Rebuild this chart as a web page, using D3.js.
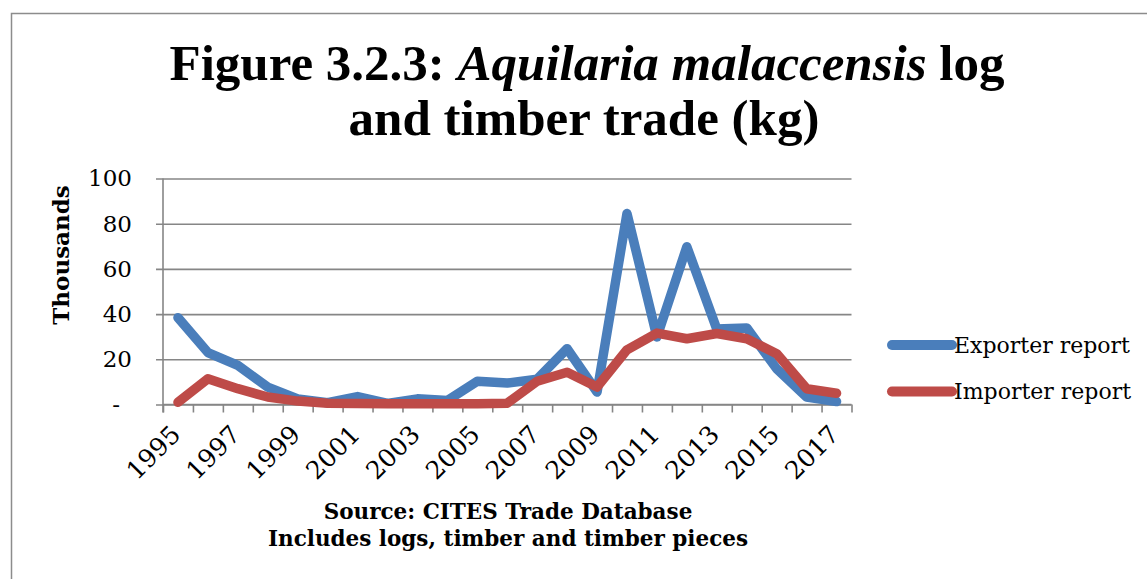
<!DOCTYPE html>
<html>
<head>
<meta charset="utf-8">
<script src="https://cdn.jsdelivr.net/npm/d3@7"></script>
<style>
  body { margin: 0; background: #fff; }
  .tick text { font-family: "DejaVu Serif", serif; }
</style>
</head>
<body>
<div id="chart"></div>
<script>
// Chart data
var years = [1995, 1996, 1997, 1998, 1999, 2000, 2001, 2002, 2003, 2004, 2005, 2006,
  2007, 2008, 2009, 2010, 2011, 2012, 2013, 2014, 2015, 2016, 2017];
var exporterReport = [38.4, 23, 17.3, 7.7, 2.5, 0.8, 3.5, 0.5, 2.5, 1.8, 10.3, 9.5,
  11.2, 24.7, 5.5, 84.5, 29.9, 69.8, 33.4, 33.9, 15.8, 3.3, 1.3];
var importerReport = [1, 11.4, 7, 3.3, 1.5, 0.6, 0.4, 0.3, 0.3, 0.3, 0.3, 0.6,
  10.3, 14.3, 7.7, 24.2, 31.6, 29.1, 31.4, 29.1, 22.5, 7, 5];
var yTicks = [0, 20, 40, 60, 80, 100];
var xLabelYears = years.filter(function(y) { return y % 2 === 1; });

var series = [
  { name: "Exporter report", values: exporterReport, color: "#4a7ebb" },
  { name: "Importer report", values: importerReport, color: "#be4b48" }
];

var svgWidth = 1147;
var svgHeight = 579;

var plot = { left: 163, right: 851.5, top: 178.5, bottom: 404.5 };

var svg = d3.select("#chart")
  .append("svg")
  .attr("width", svgWidth)
  .attr("height", svgHeight);

// outer frame
svg.append("path")
  .attr("d", "M11.5," + svgHeight + "V13.5H" + svgWidth)
  .attr("fill", "none")
  .attr("stroke", "#8c8c8c")
  .attr("stroke-width", 1.5);

// Title
var title = svg.append("text")
  .attr("text-anchor", "middle")
  .attr("font-family", "'Liberation Serif', serif")
  .attr("font-weight", "bold")
  .attr("font-size", 51)
  .attr("fill", "#000");
var line1 = title.append("tspan").attr("x", 587).attr("y", 80);
line1.append("tspan").text("Figure 3.2.3: ");
line1.append("tspan").attr("font-style", "italic").text("Aquilaria malaccensis");
line1.append("tspan").text(" log");
title.append("tspan").attr("x", 584).attr("y", 135).text("and timber trade (kg)");

// Scales
var xBand = d3.scaleBand()
  .domain(years)
  .range([plot.left, plot.right]);

var xEdge = d3.scaleLinear()
  .domain([0, years.length])
  .range([plot.left, plot.right]);

var yScale = d3.scaleLinear()
  .domain([0, 100])
  .range([plot.bottom, plot.top]);

// Gridlines
var grid = svg.append("g")
  .attr("transform", "translate(156, 0)")
  .call(d3.axisRight(yScale).tickValues(yTicks).tickSize(plot.right - 156).tickFormat(""));
grid.select(".domain").remove();
grid.selectAll("line").attr("stroke", "#868686").attr("stroke-width", 1.6);

// Y axis
var yAxis = svg.append("g")
  .attr("transform", "translate(" + plot.left + ", 0)")
  .call(d3.axisLeft(yScale).tickValues(yTicks).tickSize(0).tickPadding(31)
    .tickFormat(function(d) { return d === 0 ? "-" : d; }));
yAxis.select(".domain").remove();
yAxis.selectAll("text").attr("font-size", 23).attr("fill", "#000");
yAxis.selectAll(".tick").filter(function(d) { return d === 0; })
  .select("text").attr("dx", -12);

svg.append("line")
  .attr("x1", plot.left).attr("x2", plot.left)
  .attr("y1", plot.top).attr("y2", plot.bottom + 8)
  .attr("stroke", "#868686").attr("stroke-width", 1.6);

// X axis tick marks at category edges
var xTicks = svg.append("g")
  .attr("transform", "translate(0, " + plot.bottom + ")")
  .call(d3.axisBottom(xEdge).tickValues(d3.range(years.length + 1)).tickSize(8).tickFormat(""));
xTicks.select(".domain").remove();
xTicks.selectAll("line").attr("stroke", "#868686").attr("stroke-width", 1.6);

svg.append("line")
  .attr("x1", plot.left).attr("x2", plot.right)
  .attr("y1", plot.bottom).attr("y2", plot.bottom)
  .attr("stroke", "#868686").attr("stroke-width", 1.6);

// X labels, rotated
var xLabels = svg.append("g")
  .call(d3.axisBottom(xBand).tickValues(xLabelYears).tickSize(0).tickFormat(d3.format("d")));
xLabels.select(".domain").remove();
xLabels.selectAll(".tick")
  .attr("transform", function(d) {
    return "translate(" + (xBand(d) + xBand.bandwidth() / 2 + 4) + ", 436)";
  });
xLabels.selectAll("text")
  .attr("y", 0).attr("dy", 0)
  .attr("transform", "rotate(-45)")
  .attr("text-anchor", "end")
  .attr("font-size", 25)
  .attr("fill", "#000");

// Lines
var line = d3.line()
  .x(function(d, i) { return xBand(years[i]) + xBand.bandwidth() / 2; })
  .y(function(d) { return yScale(d); });

svg.selectAll(".series")
  .data(series)
  .enter()
  .append("path")
  .attr("class", "series")
  .attr("d", function(s) { return line(s.values); })
  .attr("fill", "none")
  .attr("stroke", function(s) { return s.color; })
  .attr("stroke-width", 9.5)
  .attr("stroke-linejoin", "round")
  .attr("stroke-linecap", "round");

// Y axis title
svg.append("text")
  .attr("transform", "translate(69, 255) rotate(-90)")
  .attr("text-anchor", "middle")
  .attr("font-family", "'DejaVu Serif', serif")
  .attr("font-weight", "bold")
  .attr("font-size", 23)
  .text("Thousands");

// Legend
var legend = svg.selectAll(".legend")
  .data(series)
  .enter()
  .append("g")
  .attr("class", "legend")
  .attr("transform", function(s, i) { return "translate(892, " + (345 + i * 46.5) + ")"; });

legend.append("line")
  .attr("x1", 0).attr("x2", 60)
  .attr("stroke", function(s) { return s.color; })
  .attr("stroke-width", 10)
  .attr("stroke-linecap", "round");

legend.append("text")
  .attr("x", 62)
  .attr("dy", "0.35em")
  .attr("font-family", "'DejaVu Serif', serif")
  .attr("font-size", 22)
  .text(function(s) { return s.name; });

// Source note
var note = svg.append("text")
  .attr("text-anchor", "middle")
  .attr("font-family", "'DejaVu Serif', serif")
  .attr("font-weight", "bold")
  .attr("font-size", 21.5);
note.append("tspan").attr("x", 508).attr("y", 519).text("Source: CITES Trade Database");
note.append("tspan").attr("x", 508).attr("y", 546).text("Includes logs, timber and timber pieces");
</script>
</body>
</html>
